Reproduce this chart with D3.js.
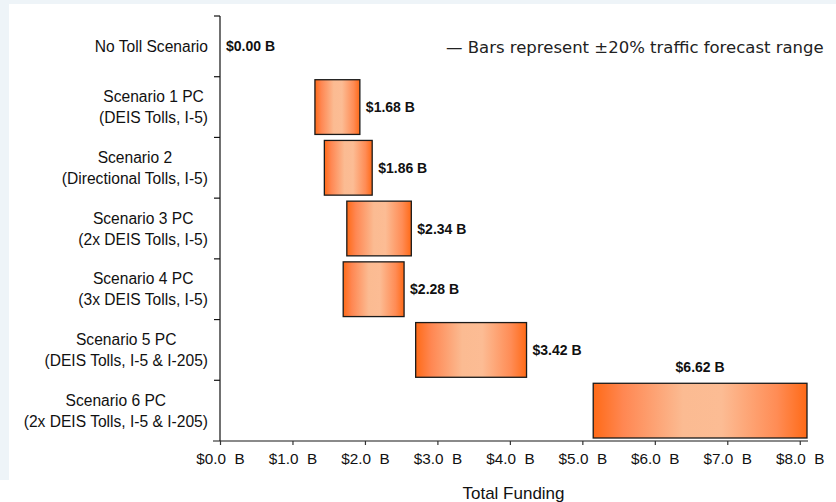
<!DOCTYPE html>
<html>
<head>
<meta charset="utf-8">
<script src="https://cdn.jsdelivr.net/npm/d3@7"></script>
<style>
  html, body { margin: 0; padding: 0; background: #ffffff; }
  svg { display: block; }
</style>
</head>
<body>
<svg id="chart" width="836" height="502"></svg>
<script>
// ---- data ----
const categories = [
  ["No Toll Scenario"],
  ["Scenario 1 PC", "(DEIS Tolls, I-5)"],
  ["Scenario 2", "(Directional Tolls, I-5)"],
  ["Scenario 3 PC", "(2x DEIS Tolls, I-5)"],
  ["Scenario 4 PC", "(3x DEIS Tolls, I-5)"],
  ["Scenario 5 PC", "(DEIS Tolls, I-5 & I-205)"],
  ["Scenario 6 PC", "(2x DEIS Tolls, I-5 & I-205)"]
];
const lowValues  = [0, 1.31, 1.44, 1.75, 1.70, 2.70, 5.15];
const highValues = [0, 1.93, 2.10, 2.64, 2.54, 4.23, 8.10];
const pointValues = [0.00, 1.68, 1.86, 2.34, 2.28, 3.42, 6.62];
const tickValues = [0, 1, 2, 3, 4, 5, 6, 7, 8];
const tickLabels = ["$0.0\u00a0\u00a0B", "$1.0\u00a0\u00a0B", "$2.0\u00a0\u00a0B", "$3.0\u00a0\u00a0B",
  "$4.0\u00a0\u00a0B", "$5.0\u00a0\u00a0B", "$6.0\u00a0\u00a0B", "$7.0\u00a0\u00a0B", "$8.0\u00a0\u00a0B"];
const xTitle = "Total Funding";
const noteText = "\u2014 Bars represent \u00b120% traffic forecast range";

// ---- layout ----
const svg = d3.select("#chart");
const W = 836, H = 502;
const plot = { left: 220, right: 807, top: 16, bottom: 441 };

// background frame
svg.append("rect").attr("x", 0).attr("y", 0).attr("width", W).attr("height", 480).attr("fill", "#eef4f8");
svg.append("rect").attr("x", 9).attr("y", 4).attr("width", W - 9).attr("height", H - 4).attr("fill", "#ffffff");
svg.append("rect").attr("x", 0).attr("y", 480).attr("width", 9).attr("height", H - 480).attr("fill", "#ffffff");

const x = d3.scaleLinear().domain([0, 8.1]).range([plot.left, plot.right]);
const y = d3.scaleBand().domain(d3.range(categories.length)).range([plot.top, plot.bottom]).padding(0);

// gradient
const defs = svg.append("defs");
const grad = defs.append("linearGradient").attr("id", "barGrad")
  .attr("x1", "0%").attr("x2", "100%").attr("y1", "0%").attr("y2", "0%");
[[0, "#ff6a17"], [0.14, "#ff8752"], [0.42, "#fbbb92"], [0.6, "#fcbc94"], [0.86, "#ff8c55"], [1, "#ff6a17"]]
  .forEach(([o, c]) => grad.append("stop").attr("offset", o).attr("stop-color", c));

const font = "'Liberation Sans', Arial, sans-serif";

// x axis
const xAxis = d3.axisBottom(x).tickValues(tickValues)
  .tickFormat((d, i) => tickLabels[i]).tickSize(4).tickPadding(8);
const gx = svg.append("g").attr("transform", `translate(0,${plot.bottom})`).call(xAxis);
gx.select(".domain").attr("stroke", "#8a8a8a").attr("stroke-width", 2)
  .attr("d", `M${plot.left - 7},0H${plot.right + 1}`);
gx.selectAll(".tick line").attr("stroke", "#333").attr("stroke-width", 1.2);
gx.selectAll(".tick text").attr("font-family", font).attr("font-size", 15.3).attr("fill", "#111");

// y axis (ticks at band boundaries)
const yEdges = d3.range(categories.length + 1).map(i => i === categories.length ? plot.bottom : y(i));
svg.append("line").attr("x1", plot.left).attr("x2", plot.left)
  .attr("y1", plot.top).attr("y2", plot.bottom).attr("stroke", "#111").attr("stroke-width", 1.2);
svg.selectAll(".ytick").data(yEdges.slice(0, -1)).enter().append("line")
  .attr("x1", plot.left - 6).attr("x2", plot.left).attr("y1", d => d).attr("y2", d => d)
  .attr("stroke", "#111").attr("stroke-width", 1.2);

// category labels (centered lines, block right-aligned)
categories.forEach((lines, i) => {
  const cy = y(i) + y.bandwidth() / 2;
  const g = svg.append("g");
  const n = lines.length;
  const texts = lines.map((t, j) => g.append("text")
    .attr("font-family", font).attr("font-size", 15.6).attr("fill", "#111")
    .attr("text-anchor", "middle").attr("dominant-baseline", "central")
    .attr("y", cy + (j - (n - 1) / 2) * 21).text(t));
  const maxW = d3.max(texts, t => t.node().getComputedTextLength());
  texts.forEach(t => t.attr("x", 208 - maxW / 2));
});

// bars
const inset = 3;
categories.forEach((c, i) => {
  if (highValues[i] > lowValues[i]) {
    svg.append("rect")
      .attr("x", x(lowValues[i])).attr("y", y(i) + inset)
      .attr("width", x(highValues[i]) - x(lowValues[i]))
      .attr("height", y.bandwidth() - inset * 2)
      .attr("fill", "url(#barGrad)").attr("stroke", "#1a1a1a").attr("stroke-width", 1.3);
  }
});

// value labels
categories.forEach((c, i) => {
  const label = "$" + pointValues[i].toFixed(2) + " B";
  const t = svg.append("text").attr("font-family", font).attr("font-size", 14)
    .attr("font-weight", "bold").attr("fill", "#111").attr("dominant-baseline", "central").text(label);
  const tw = t.node().getComputedTextLength();
  const xe = x(highValues[i]) + 6;
  if (xe + tw > W - 5) {
    t.attr("text-anchor", "middle")
      .attr("x", (x(lowValues[i]) + x(highValues[i])) / 2)
      .attr("y", y(i) - 16 + inset);
  } else {
    t.attr("x", xe).attr("y", y(i) + y.bandwidth() / 2);
  }
});

// x title
svg.append("text").attr("x", (plot.left + plot.right) / 2).attr("y", 493)
  .attr("text-anchor", "middle").attr("dominant-baseline", "central")
  .attr("font-family", font).attr("font-size", 17).attr("fill", "#111").text(xTitle);

// note
svg.append("text").attr("x", 446).attr("y", 47).attr("dominant-baseline", "central")
  .attr("font-family", "'DejaVu Sans', Verdana, sans-serif").attr("font-size", 16.5)
  .attr("fill", "#222").text(noteText);
</script>
</body>
</html>
